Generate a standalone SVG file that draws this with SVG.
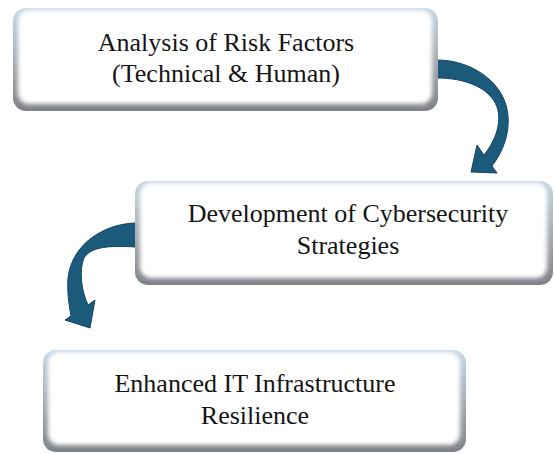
<svg xmlns="http://www.w3.org/2000/svg" width="554" height="454" viewBox="0 0 554 454">
  <defs>
    <linearGradient id="boxEdge" x1="0" y1="0" x2="0" y2="1">
      <stop offset="0" stop-color="#c4d6e4"/>
      <stop offset="0.5" stop-color="#a9adb3"/>
      <stop offset="1" stop-color="#7f8286"/>
    </linearGradient>
    <filter id="soft" x="-5%" y="-10%" width="110%" height="120%">
      <feGaussianBlur stdDeviation="2.2"/>
    </filter>
    <style>
      .edge { fill: url(#boxEdge); }
      .face { fill: #ffffff; filter: url(#soft); }
      .label { font-family: "Liberation Serif", "Times New Roman", serif; font-size: 26px; fill: #141414; text-anchor: middle; }
      .flow { fill: #1c5a7b; stroke: #15465f; stroke-width: 1; stroke-linejoin: miter; }
    </style>
  </defs>

  <!-- curved flow arrows, drawn first so their tails tuck under the boxes -->
  <g id="connectors">
    <path class="flow" d="M 430,60 L 437,60 C 468,60 498,78 506,105 C 511,122 508,145 492,166 L 497,173 L 471,172 L 477,145 L 484,155 C 496,140 502,122 497,107 C 490,88 466,78 437,78 L 430,78 Z"/>
    <path class="flow" d="M 142,223 L 135,223 C 105,224 72,243 68,278 C 67,292 69,305 71,316 L 65,320 L 90,328 L 95,300 L 88,305 C 81,290 79,270 84,258 C 90,248 105,245 135,247 L 142,247 Z"/>
  </g>

  <g id="node-risk">
    <rect class="edge" x="13" y="8" width="425" height="103" rx="13"/>
    <rect class="face" x="18" y="10" width="414" height="94" rx="11"/>
    <text class="label" x="226" y="51">Analysis of Risk Factors</text>
    <text class="label" x="226" y="82">(Technical &amp; Human)</text>
  </g>

  <g id="node-strategy">
    <rect class="edge" x="135" y="181" width="418" height="104" rx="13"/>
    <rect class="face" x="140" y="183" width="407" height="95" rx="11"/>
    <text class="label" x="348" y="222">Development of Cybersecurity</text>
    <text class="label" x="348" y="254">Strategies</text>
  </g>

  <g id="node-resilience">
    <rect class="edge" x="43" y="350" width="423" height="102" rx="13"/>
    <rect class="face" x="48" y="352" width="412" height="93" rx="11"/>
    <text class="label" x="255" y="392">Enhanced IT Infrastructure</text>
    <text class="label" x="255" y="424">Resilience</text>
  </g>
</svg>
